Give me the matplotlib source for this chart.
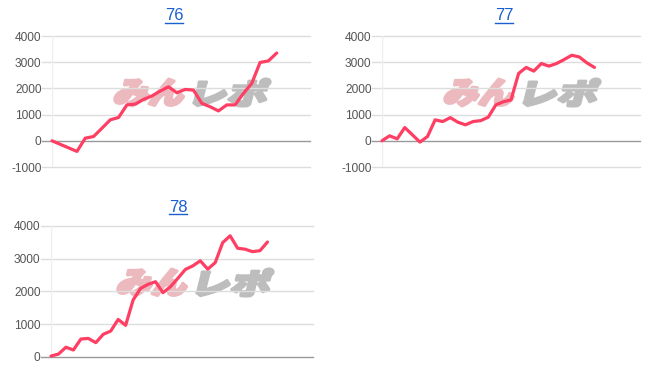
import math

import matplotlib

matplotlib.use("Agg")
import matplotlib.pyplot as plt
from matplotlib.font_manager import FontProperties
from matplotlib.patches import PathPatch
from matplotlib.textpath import TextPath
from matplotlib.transforms import Affine2D

# chart titles
titles = ["76", "77", "78"]

# running balance per game
vals_76 = [0, -135, -270, -405, 100, 165, 480, 800, 890, 1370, 1400, 1580, 1710, 1900,
           2060, 1835, 1960, 1935, 1430, 1300, 1140, 1370, 1370, 1810, 2190, 2990, 3050, 3350]
vals_77 = [0, 190, 75, 505, 230, -50, 165, 800, 735, 885, 710, 610, 735, 770, 900, 1370,
           1490, 1560, 2570, 2800, 2660, 2950, 2850, 2950, 3100, 3265, 3200, 2975, 2800]
vals_78 = [20, 80, 290, 205, 540, 560, 430, 685, 785, 1140, 960, 1735, 2090, 2215, 2295,
           1960, 2140, 2400, 2670, 2780, 2935, 2680, 2880, 3490, 3700, 3320, 3290, 3215,
           3245, 3510]

yticks_76 = [-1000, 0, 1000, 2000, 3000, 4000]
yticks_77 = [-1000, 0, 1000, 2000, 3000, 4000]
yticks_78 = [0, 1000, 2000, 3000, 4000]

W, H = 657, 369
LINE = "#ff3e63"
GRID = "#dddddd"
BASE = "#999999"
LABEL = "#555555"
LINK = "#1a5fcf"

plt.rcParams["font.family"] = ["Liberation Sans", "DejaVu Sans"]

fig = plt.figure(figsize=(W / 100, H / 100), dpi=100)
fig.patch.set_facecolor("white")

# overlay in pixel coordinates for the watermark and title underlines
ov = fig.add_axes([0, 0, 1, 1])
ov.set_xlim(0, W)
ov.set_ylim(0, H)
ov.axis("off")
ov.set_zorder(0)

logo_font = FontProperties(family="Noto Sans CJK JP", weight="heavy")


def draw_logo(x0, x1, top, bottom, text, color, slant=14):
    """Fit a slanted text path into a pixel box (image coords, y down)."""
    tp = TextPath((0, 0), text, size=10, prop=logo_font)
    ext = tp.get_extents()
    h_px = bottom - top
    sy = h_px / ext.height
    t = math.tan(math.radians(slant))
    sx = ((x1 - x0) - h_px * t) / ext.width
    tr = (Affine2D().translate(-ext.x0, -ext.y0).scale(sx, sy)
          .skew_deg(slant, 0).translate(x0, H - bottom))
    ov.add_patch(PathPatch(tr.transform_path(tp), facecolor=color,
                           edgecolor=color, lw=2.2, joinstyle="round", zorder=1))


def make_chart(box, values, yticks, n_slots, title, title_xy, logo_off):
    left, right, top, bottom = box
    ax = fig.add_axes([left / W, (H - bottom) / H, (right - left) / W, (bottom - top) / H])
    ax.set_zorder(1)
    ax.set_facecolor("none")
    ax.set_xlim(0, n_slots)
    ax.set_ylim(yticks[0], yticks[-1])
    for s in ax.spines.values():
        s.set_visible(False)
    ext = -10 / (right - left)
    for v in yticks:
        ax.axhline(v, xmin=ext, xmax=1, color=BASE if v == 0 else GRID,
                   lw=1, clip_on=False, zorder=1)
    ax.axvline(0, color="#eeeeee", lw=1, zorder=1)
    ax.plot(range(len(values)), values, color=LINE, lw=2.3, zorder=3,
            solid_joinstyle="round", solid_capstyle="round", clip_on=False)
    ax.set_xticks([])
    ax.set_yticks(yticks)
    ax.set_yticklabels([str(v) for v in yticks])
    ax.tick_params(axis="y", length=0, pad=7.6, labelsize=8.6, labelcolor=LABEL)

    lx, ly = left + logo_off[0], top + logo_off[1]
    draw_logo(lx + 1, lx + 76, ly + 1, ly + 28, "みん", "#ebb9be")
    draw_logo(lx + 81, lx + 159, ly + 1, ly + 28, "レポ", "#bdbdbd")

    t = fig.text(title_xy[0] / W, 1 - title_xy[1] / H, title, ha="center", va="center",
                 fontsize=12, color=LINK)
    return t


t1 = make_chart((52, 310, 36, 167), vals_76, yticks_76, 31, titles[0], (174, 16), (60, 42))
t2 = make_chart((382, 640, 36, 167), vals_77, yticks_77, 34, titles[1], (504, 16), (60, 42))
t3 = make_chart((51, 313, 226, 356.7), vals_78, yticks_78, 35.1, titles[2], (178, 207), (64, 42))

fig.canvas.draw()
renderer = fig.canvas.get_renderer()
for t in (t1, t2, t3):
    bb = t.get_window_extent(renderer)
    ov.plot([bb.x0, bb.x1], [bb.y0 + 1, bb.y0 + 1], color=LINK, lw=1)

fig.savefig("out.png", dpi=100)
